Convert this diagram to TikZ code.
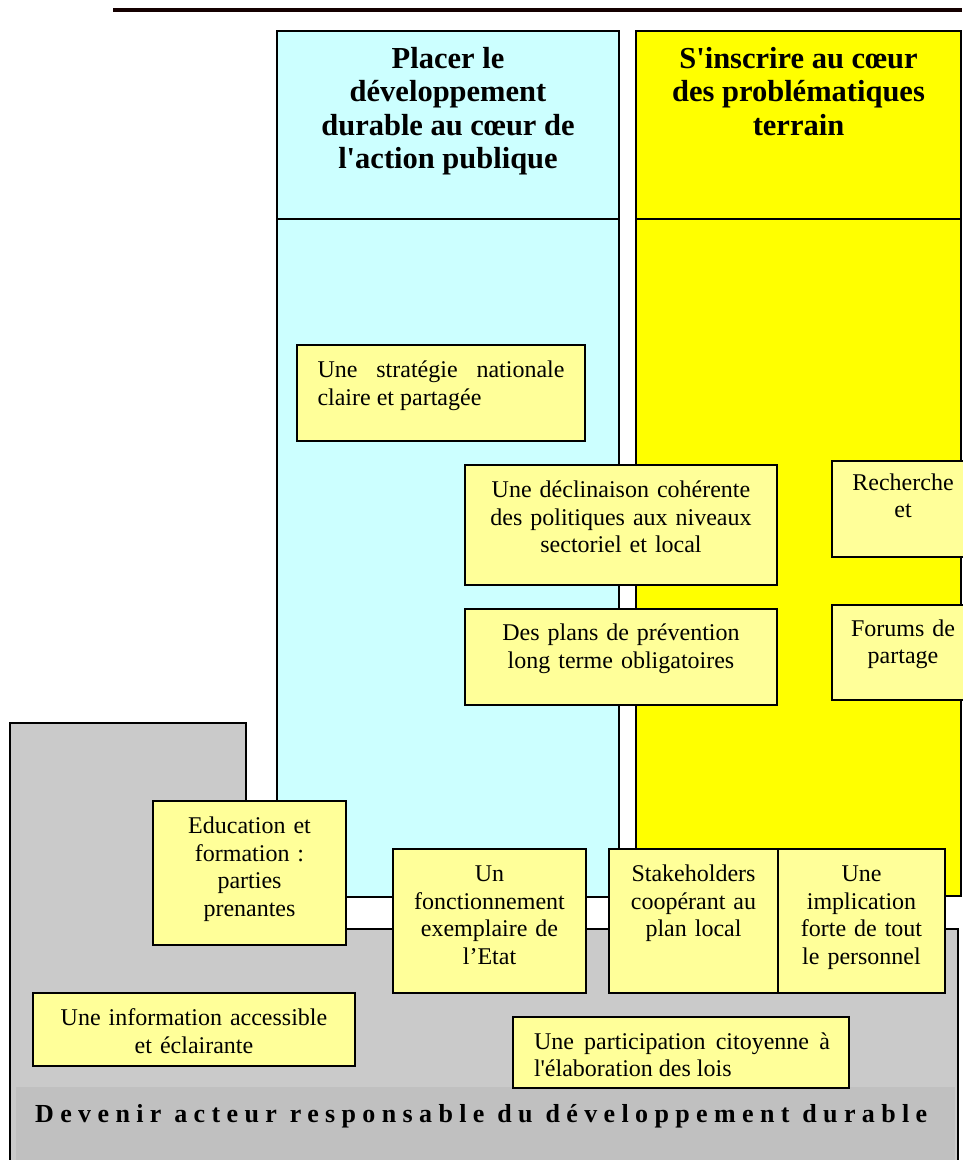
\documentclass[tikz,border=0pt]{standalone}
\usepackage{fontspec}
\setmainfont[Ligatures=TeXOff]{Liberation Serif}
\newfontfamily\spacedfont[Ligatures=TeXOff,LetterSpace=24.5]{Liberation Serif}
\usetikzlibrary{fit}
\definecolor{colblue}{HTML}{CCFFFF}
\definecolor{colyellow}{HTML}{FFFF00}
\definecolor{boxyellow}{HTML}{FFFF99}
\definecolor{regiongray}{HTML}{CACACA}
\definecolor{bandgray}{HTML}{C0C0C0}
\tikzset{
  colbox/.style={draw=black, line width=1.3pt, inner sep=0pt},
  ybox/.style={draw=black, fill=boxyellow, line width=1.4pt, inner sep=0pt},
  btext/.style={font=\fontsize{24}{27.5}\selectfont, inner sep=0pt, align=center, anchor=north},
  ttext/.style={font=\fontsize{30.5}{33.5}\selectfont\bfseries, inner sep=0pt, align=center, anchor=north},
}
\begin{document}
\begin{tikzpicture}[x=1pt, y=-1pt]
\useasboundingbox (0,0) rectangle (962,1160);
% top rule
\coordinate (ruleL) at (113,10);
\coordinate (ruleR) at (962,10);
\draw[line width=3.2pt, color=black!92!red] (ruleL) -- (ruleR);
% columns
\node[colbox, fill=colblue, fit={(277,31) (619,218.5)}] (bluehead) {};
\node[colbox, fill=colblue, fit={(277,219.5) (619,897)}] (bluebody) {};
\node[colbox, fill=colyellow, fit={(636,31) (961,218.5)}] (yelhead) {};
\node[colbox, fill=colyellow, fit={(636,219.5) (961,896)}] (yelbody) {};
\node[ttext] (bluetitle) at (448,44.5) {\strut Placer le\\développement\\durable au cœur de\\l'action publique};
\node[ttext] (yeltitle) at (798.5,44.5) {\strut S'inscrire au cœur\\des problématiques\\terrain};
% gray region
\draw[line width=2pt, fill=regiongray] (10,723) -- (246,723) -- (246,929) -- (958,929) -- (958,1175) -- (10,1175) -- cycle;
\node[fill=bandgray, inner sep=0pt, fit={(16,1087) (955,1175)}] (band) {};
% boxes
\node[ybox, fit={(297,345) (585,441)}] (strat) {};
\node[btext, text width=247pt, align=justify] (strat-t) at (441,358.5) {\strut Une stratégie nationale\linebreak claire et partagée};
\node[ybox, fit={(465,465) (777,585)}] (decl) {};
\node[btext, text width=300pt] (decl-t) at (621,478.5) {\strut Une déclinaison cohérente\\des politiques aux niveaux\\sectoriel et local};
\node[ybox, fit={(465,609) (777,705)}] (plans) {};
\node[btext, text width=300pt] (plans-t) at (621,621.5) {\strut Des plans de prévention\\long terme obligatoires};
\node[ybox, fit={(832,461) (975,557)}] (rech) {};
\node[btext, text width=140pt] (rech-t) at (903,471) {\strut Recherche\\et};
\node[ybox, fit={(832,605) (975,700)}] (forums) {};
\node[btext, text width=140pt] (forums-t) at (903,617) {\strut Forums de\\partage};
\node[ybox, fit={(153,801) (346,945)}] (educ) {};
\node[btext, text width=190pt] (educ-t) at (249.5,814.5) {\strut Education et\\formation :\\parties\\prenantes};
\node[ybox, fit={(393,849) (586,993)}] (fonct) {};
\node[btext, text width=190pt] (fonct-t) at (489.5,862.5) {\strut Un\\fonctionnement\\exemplaire de\\l’Etat};
\node[ybox, fit={(609,849) (778,993)}] (stake) {};
\node[btext, text width=166pt] (stake-t) at (693.5,862.5) {\strut Stakeholders\\coopérant au\\plan local};
\node[ybox, fit={(778,849) (945,993)}] (impl) {};
\node[btext, text width=164pt] (impl-t) at (861.5,862.5) {\strut Une\\implication\\forte de tout\\le personnel};
\node[ybox, fit={(33,993) (355,1066)}] (info) {};
\node[btext, text width=318pt] (info-t) at (194,1006.5) {\strut Une information accessible\\et éclairante};
\node[ybox, fit={(513,1017) (849,1088)}] (partic) {};
\node[btext, text width=296pt, align=justify] (partic-t) at (682,1030) {\strut Une participation citoyenne à\linebreak l'élaboration des lois};
% band title
\node[anchor=base west, inner sep=0pt, font=\spacedfont\bfseries\fontsize{26}{30}\selectfont] (bandtitle) at (35,1122) {Devenir acteur responsable du développement durable};
\end{tikzpicture}
\end{document}
